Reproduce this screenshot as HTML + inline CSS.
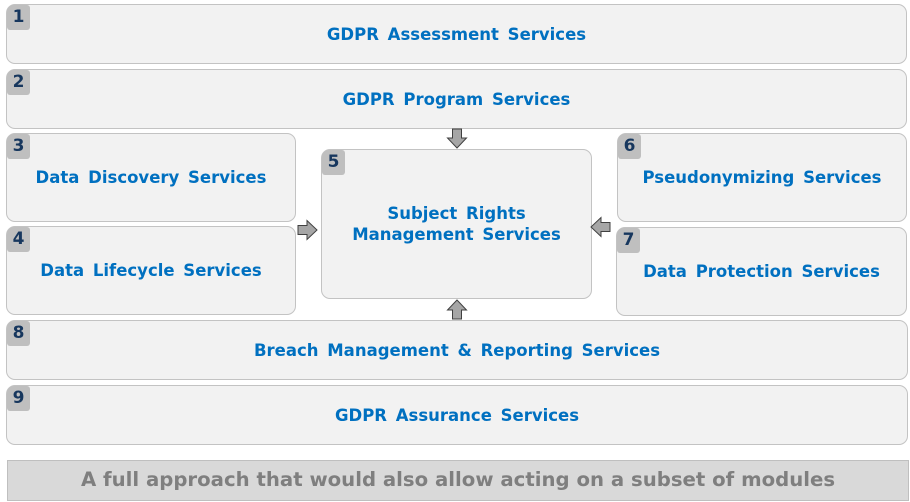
<!DOCTYPE html>
<html><head><meta charset="utf-8"><style>
body{margin:0;width:910px;height:502px;background:#fff;position:relative;overflow:hidden;font-family:"DejaVu Sans",Verdana,sans-serif;}
.b{position:absolute;box-sizing:border-box;background:#f2f2f2;border:1px solid #c3c3c3;border-radius:9px;display:flex;align-items:center;justify-content:center;text-align:center;color:#0070c0;font-weight:bold;font-size:16.5px;word-spacing:3px;line-height:21px;}
.n{position:absolute;left:0;top:0;width:23px;height:25px;background:#bfbfbf;border-radius:7px 3px 3px 3px;color:#17375e;font-size:17px;line-height:25px;text-align:center;word-spacing:0}
.f{position:absolute;left:7px;top:460px;width:902px;height:41px;box-sizing:border-box;background:#d9d9d9;border:1px solid #bfbfbf;color:#7f7f7f;font-weight:bold;font-size:19.7px;display:flex;align-items:center;justify-content:center;padding-bottom:3px}
svg{position:absolute;left:0;top:0}
</style></head><body>
<div class="b" style="left:6px;top:4px;width:901px;height:60px"><div class="n">1</div>GDPR Assessment Services</div>
<div class="b" style="left:6px;top:69px;width:901px;height:60px"><div class="n">2</div>GDPR Program Services</div>
<div class="b" style="left:6px;top:133px;width:290px;height:89px"><div class="n">3</div>Data Discovery Services</div>
<div class="b" style="left:6px;top:226px;width:290px;height:89px"><div class="n">4</div>Data Lifecycle Services</div>
<div class="b" style="left:321px;top:149px;width:271px;height:150px"><div class="n">5</div>Subject Rights<br>Management Services</div>
<div class="b" style="left:617px;top:133px;width:290px;height:89px"><div class="n">6</div>Pseudonymizing Services</div>
<div class="b" style="left:616px;top:227px;width:291px;height:89px"><div class="n">7</div>Data Protection Services</div>
<div class="b" style="left:6px;top:320px;width:902px;height:60px"><div class="n">8</div>Breach Management &amp; Reporting Services</div>
<div class="b" style="left:6px;top:385px;width:902px;height:60px"><div class="n">9</div>GDPR Assurance Services</div>
<div class="f">A full approach that would also allow acting on a subset of modules</div>
<svg width="910" height="502">
<g fill="#a6a6a6" stroke="#404040" stroke-width="1">
<polygon points="452.5,129 461.5,129 461.5,138 466.5,138 457,148 447.5,138 452.5,138"/>
<polygon points="452.5,319 461.5,319 461.5,310 466.5,310 457,300 447.5,310 452.5,310"/>
<polygon points="298,225.5 307,225.5 307,220.5 317,230 307,239.5 307,234.5 298,234.5"/>
<polygon points="610,222.5 601,222.5 601,217.5 591,227 601,236.5 601,231.5 610,231.5"/>
</g></svg>
</body></html>
